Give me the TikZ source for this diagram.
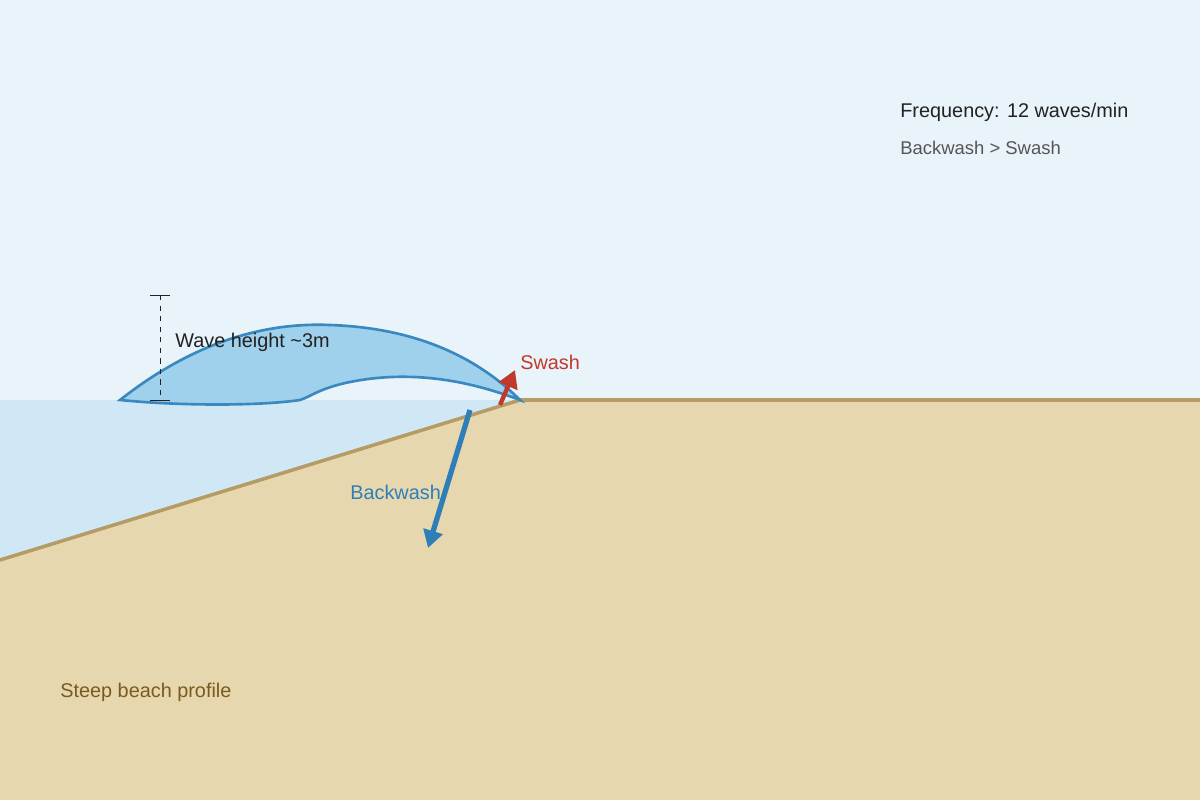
\documentclass[tikz,border=0pt]{standalone}
\usepackage{fontspec}
\setmainfont{Liberation Sans}
\usetikzlibrary{arrows.meta}
\definecolor{sky}{HTML}{E8F4FA}
\definecolor{sea}{HTML}{D0E8F5}
\definecolor{sand}{HTML}{E6D7AE}
\definecolor{shore}{HTML}{B59B66}
\definecolor{wavefill}{HTML}{9FD0EC}
\definecolor{waveline}{HTML}{3A88C0}
\definecolor{swashred}{HTML}{C0392B}
\definecolor{washblue}{HTML}{2E7FB8}
\definecolor{darktext}{HTML}{222222}
\definecolor{greytext}{HTML}{555555}
\definecolor{sandtext}{HTML}{7A5A1E}
\begin{document}
\begin{tikzpicture}[x=0.02cm,y=-0.02cm]
    \tikzstyle{label}=[anchor=west,inner sep=0pt,font=\fontsize{11.3}{13}\selectfont]
    \tikzstyle{flow}=[line width=2.5pt,-{Triangle[length=10pt,width=11pt]}]

    \fill[sky] (0,0) rectangle (1200,800);
    \useasboundingbox (0,0) rectangle (1200,800);
    \fill[sea] (0,400) rectangle (520,560);
    \fill[sand] (0,560) -- (520,400) -- (1200,400) -- (1200,800) -- (0,800) -- cycle;
    \draw[shore,line width=2pt] (0,560) -- (520,400) -- (1200,400);

    % wave
    \draw[waveline,fill=wavefill,line width=1.5pt]
        (120,400) .. controls (190,345) and (260,322) .. (330,325)
        .. controls (420,328) and (480,360) .. (520,400)
        .. controls (480,385) and (420,368) .. (350,382)
        .. controls (320,388) and (310,397) .. (300,400)
        .. controls (260,406) and (180,406) .. (120,400) -- cycle;

    % height marker
    \coordinate (htop) at (160,295);
    \coordinate (hbot) at (160,400);
    \draw[darktext,dashed,thin] (htop) -- (hbot);
    \draw[darktext,thin] (150,295) -- (170,295) (150,400) -- (170,400);

    % swash and backwash
    \coordinate (sw0) at (500,405);
    \coordinate (sw1) at (515,370);
    \coordinate (bw0) at (470,410);
    \coordinate (bw1) at (428,548);
    \draw[flow,swashred,line width=2.5pt] (sw0) -- (sw1);
    \draw[flow,washblue,line width=3pt] (bw0) -- (bw1);

    \node[label,text=darktext] (height) at (175,342) {Wave height \textasciitilde 3m};
    \node[label,text=swashred] (swash) at (520,362) {Swash};
    \node[label,text=washblue] (backwash) at (350,492) {Backwash};
    \node[label,text=darktext] (freq) at (900,112) {Frequency: 12 waves/min};
    \node[label,text=greytext,font=\fontsize{10.5}{12}\selectfont] (ratio) at (900,148) {Backwash > Swash};
    \node[label,text=sandtext] (profile) at (60,692) {Steep beach profile};
\end{tikzpicture}
\end{document}
